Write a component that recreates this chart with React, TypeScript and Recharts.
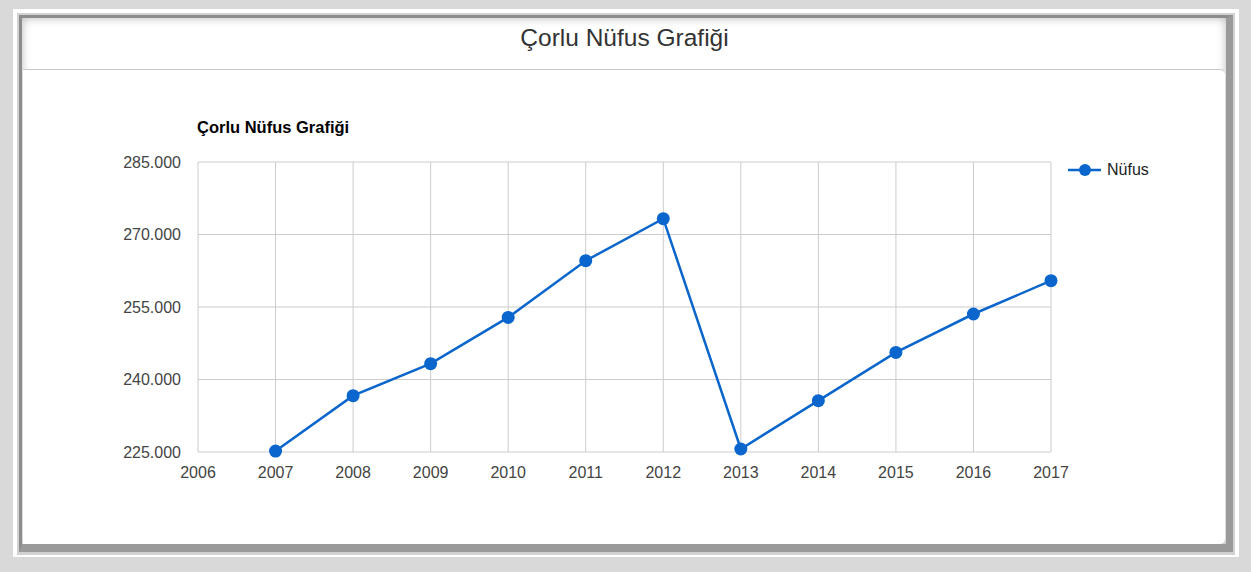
import React from 'react';
import { LineChart, Line, XAxis, YAxis, CartesianGrid } from 'recharts';

const years = [2007, 2008, 2009, 2010, 2011, 2012, 2013, 2014, 2015, 2016, 2017];
const nufus = [225200, 236650, 243270, 252850, 264580, 273270, 225620, 235620, 245610, 253550, 260440];
const xTicks = [2006, 2007, 2008, 2009, 2010, 2011, 2012, 2013, 2014, 2015, 2016, 2017];
const yTicks = [225000, 240000, 255000, 270000, 285000];
const seriesName = 'Nüfus';
const titleText = 'Çorlu Nüfus Grafiği';

const data = years.map((y, i) => ({ year: y, value: nufus[i] }));

const fmt = (v: number) => String(v).replace(/\B(?=(\d{3})+(?!\d))/g, '.');

const FONT = '"Liberation Sans", Arial, sans-serif';
const BLUE = '#0a66cc';

export default function App() {
  return (
    <div style={{ position: 'fixed', left: 0, top: 0, width: 1259, height: 572, background: '#ffffff', overflow: 'hidden', fontFamily: FONT }}>
      <div style={{ position: 'absolute', left: 0, top: 0, width: 1251, height: 572, background: '#d9d9d9' }} />
      <div style={{ position: 'absolute', left: 13, top: 9, width: 1226, height: 548, background: '#ffffff' }} />
      <div style={{ position: 'absolute', left: 17, top: 13, width: 1218, height: 542, background: '#d2d2d2', boxSizing: 'border-box' }} />
      <div style={{ position: 'absolute', left: 19, top: 15, width: 1214, height: 537, boxSizing: 'border-box', background: '#ffffff',
        borderTop: '3px solid #8c8c8c', borderLeft: '3px solid #8c8c8c', borderRight: '7px solid #9a9a9a', borderBottom: '8px solid #9a9a9a',
        boxShadow: 'inset 0 0 10px rgba(0,0,0,0.28)' }} />
      <div style={{ position: 'absolute', left: 23, top: 69, width: 1203, height: 475, boxSizing: 'border-box',
        borderTop: '1px solid #c8c8c8', borderRight: '1px solid #dedede', borderRadius: '0 6px 6px 0', background: '#ffffff' }} />
      <div style={{ position: 'absolute', left: 23, top: 22, width: 1203, textAlign: 'center', fontSize: 24.5, color: '#333', lineHeight: '32px' }}>
        {titleText}
      </div>
      <div style={{ position: 'absolute', left: 197, top: 117, fontSize: 16.5, fontWeight: 'bold', color: '#000', lineHeight: '20px' }}>
        {titleText}
      </div>
      <div style={{ position: 'absolute', left: 0, top: 0 }}>
        <LineChart width={1259} height={572} data={data} margin={{ top: 162, right: 208, bottom: 0, left: 0 }}>
          <CartesianGrid stroke="#cccccc" strokeWidth={1} horizontalValues={yTicks} verticalValues={xTicks} />
          <XAxis dataKey="year" type="number" domain={[2006, 2017]} ticks={xTicks} axisLine={false} tickLine={false}
            tickSize={0} tickMargin={15} interval={0} height={120}
            tick={{ fill: '#444', fontSize: 16, fontFamily: FONT }} />
          <YAxis type="number" domain={[225000, 285000]} ticks={yTicks} axisLine={false} tickLine={false}
            tickSize={0} tickMargin={17} width={198} tickFormatter={fmt} interval={0}
            tick={{ fill: '#444', fontSize: 16, fontFamily: FONT }} />
          <Line type="linear" dataKey="value" name={seriesName} stroke={BLUE} strokeWidth={2.5}
            dot={{ r: 6.5, fill: BLUE, stroke: BLUE, strokeWidth: 0 }} activeDot={false} isAnimationActive={false} />
        </LineChart>
      </div>
      <div style={{ position: 'absolute', left: 1068, top: 160, height: 20, display: 'flex', alignItems: 'center' }}>
        <svg width={34} height={20}>
          <line x1={0} y1={10} x2={33} y2={10} stroke={BLUE} strokeWidth={2.5} />
          <circle cx={17} cy={10} r={6} fill={BLUE} />
        </svg>
        <span style={{ marginLeft: 5, fontSize: 16, color: '#222', lineHeight: '20px' }}>{seriesName}</span>
      </div>
    </div>
  );
}
